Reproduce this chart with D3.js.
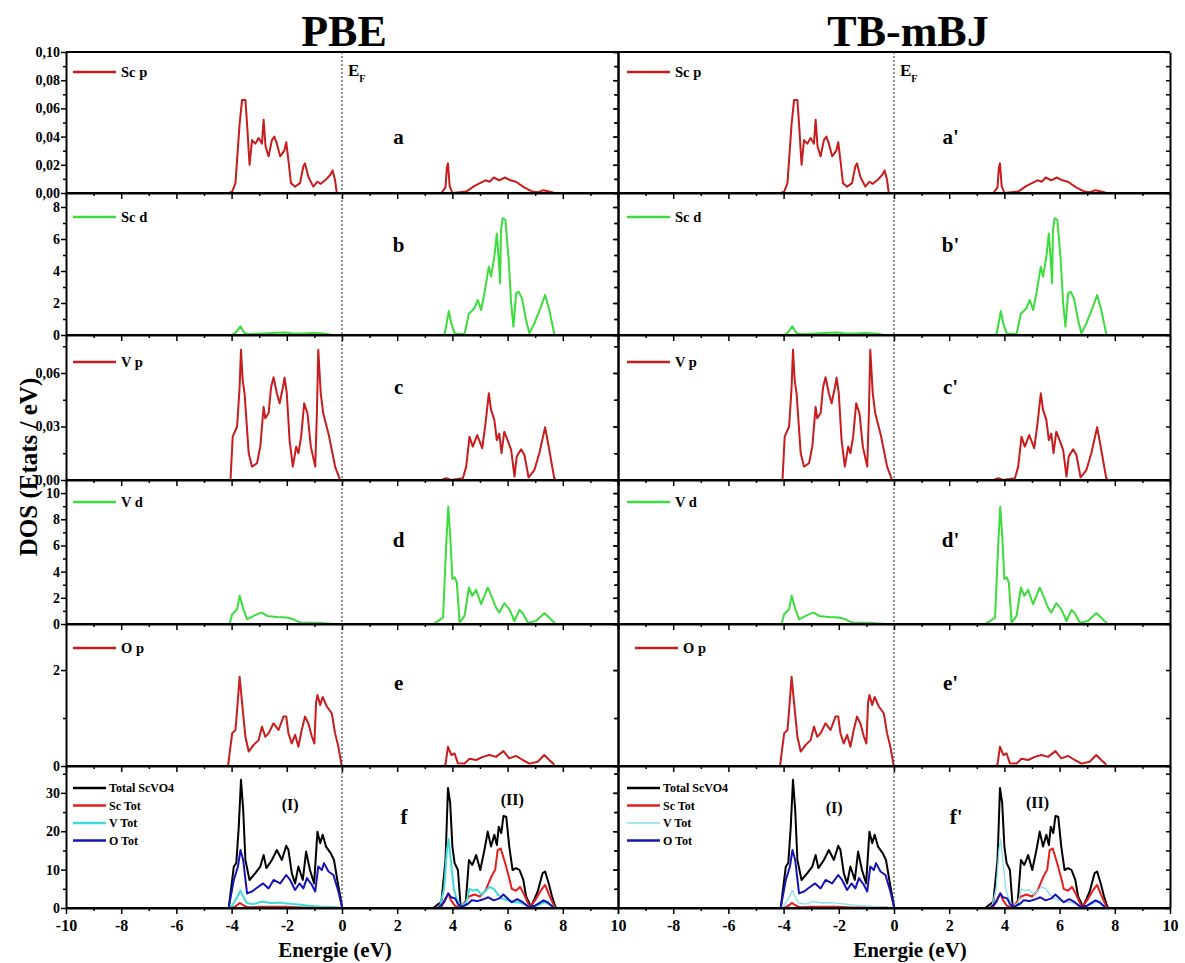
<!DOCTYPE html>
<html>
<head>
<meta charset="utf-8">
<script src="https://cdn.jsdelivr.net/npm/d3@7"></script>
<style>
  html, body { margin: 0; padding: 0; background: #fff; }
  svg { display: block; font-family: "Liberation Serif", "Times New Roman", serif; font-weight: bold; }
</style>
</head>
<body>
<svg id="chart" width="1185" height="963"></svg>
<script>
// Energy tick labels (eV)
const ENERGY_TICKS = [-10, -8, -6, -4, -2, 0, 2, 4, 6, 8, 10];
const ENERGY_MINOR = [-9, -7, -5, -3, -1, 1, 3, 5, 7, 9];

// [E (eV), DOS] pairs
const SC_P = [
  [-4.1,0],[-3.98,0.001],[-3.86,0.007],[-3.71,0.049],[-3.62,0.066],[-3.5,0.066],[-3.44,0.049],
  [-3.35,0.02],[-3.26,0.0375],[-3.14,0.035],[-3.02,0.039],[-2.9,0.035],[-2.84,0.052],[-2.77,0.033],
  [-2.66,0.026],[-2.54,0.0375],[-2.45,0.04],[-2.36,0.035],[-2.24,0.026],[-2.09,0.03],[-2.02,0.036],
  [-1.94,0.023],[-1.85,0.007],[-1.7,0.0045],[-1.52,0.007],[-1.4,0.019],[-1.34,0.021],[-1.22,0.0115],
  [-1.04,0.0045],[-0.89,0.008],[-0.77,0.0065],[-0.61,0.009],[-0.43,0.0128],[-0.34,0.016],[-0.25,0.009],
  [-0.19,0],[3.6,0],[3.75,0.004],[3.8,0.018],[3.84,0.021],[3.9,0.005],[4.0,0],[4.5,0.001],[4.8,0.005],
  [5.2,0.009],[5.35,0.008],[5.5,0.011],[5.7,0.009],[5.9,0.011],[6.1,0.009],[6.3,0.008],[6.6,0.004],
  [6.9,0.001],[7.1,0.0005],[7.3,0.002],[7.5,0.001],[7.7,0]
];
const SC_D = [
  [-4.0,0],[-3.85,0.15],[-3.68,0.55],[-3.55,0.15],[-3.4,0.05],[-3.0,0.08],[-2.5,0.12],[-2.06,0.16],
  [-1.8,0.1],[-1.4,0.1],[-1.0,0.12],[-0.6,0.08],[-0.36,0],
  [3.6,0],[3.72,0.06],[3.87,1.5],[3.96,0.73],[4.08,0.1],[4.44,0.05],[4.6,1.35],[4.68,1.46],[4.8,1.68],
  [4.92,2.19],[5.04,1.56],[5.16,2.6],[5.32,4.27],[5.4,3.65],[5.52,4.9],[5.61,6.35],[5.67,4.9],[5.73,3.23],
  [5.76,6.56],[5.82,7.29],[5.92,7.19],[6.04,4.69],[6.13,1.98],[6.21,0.52],[6.31,2.6],[6.4,2.71],[6.52,2.29],
  [6.67,0.94],[6.79,0.1],[6.97,0.73],[7.21,1.77],[7.36,2.5],[7.51,1.56],[7.61,0.73],[7.69,0.06],[7.75,0]
];
const V_P = [
  [-4.04,0],[-3.96,0.0243],[-3.8,0.03],[-3.71,0.052],[-3.66,0.073],[-3.6,0.056],[-3.53,0.0486],
  [-3.38,0.015],[-3.26,0.0075],[-3.08,0.0094],[-2.96,0.0187],[-2.84,0.041],[-2.78,0.0346],[-2.66,0.0374],
  [-2.57,0.052],[-2.48,0.0576],[-2.36,0.0486],[-2.26,0.043],[-2.14,0.052],[-2.08,0.0574],[-2.0,0.0486],
  [-1.9,0.0224],[-1.78,0.0075],[-1.66,0.0187],[-1.58,0.015],[-1.48,0.0243],[-1.37,0.043],[-1.25,0.0374],
  [-1.13,0.0187],[-0.97,0.0075],[-0.91,0.0374],[-0.86,0.073],[-0.77,0.0486],[-0.68,0.0374],[-0.49,0.026],
  [-0.37,0.0168],[-0.25,0.0075],[-0.07,0],
  [3.6,0],[3.78,0.001],[3.95,0],[4.38,0.001],[4.5,0.0075],[4.62,0.0243],[4.74,0.0187],[4.9,0.0252],
  [5.08,0.0178],[5.2,0.0318],[5.32,0.0486],[5.4,0.0393],[5.52,0.0337],[5.61,0.0224],[5.7,0.026],
  [5.78,0.015],[5.88,0.0271],[6.0,0.0224],[6.13,0.0168],[6.25,0.0019],[6.33,0.0131],[6.49,0.0172],
  [6.61,0.014],[6.76,0.0015],[6.97,0.0056],[7.15,0.015],[7.36,0.0296],[7.51,0.0168],[7.69,0.001],[7.75,0]
];
const V_D = [
  [-4.07,0],[-3.98,0.74],[-3.8,1.13],[-3.71,2.15],[-3.59,1.25],[-3.44,0.36],[-3.2,0.62],[-3.02,0.79],
  [-2.9,0.87],[-2.72,0.62],[-2.36,0.54],[-2.0,0.49],[-1.76,0.36],[-1.52,0.1],[-0.91,0.1],[-0.31,0],
  [3.3,0],[3.39,0.1],[3.66,0.49],[3.78,6.25],[3.85,8.95],[3.92,6.77],[4.0,3.44],[4.08,3.56],[4.16,3.18],
  [4.26,0.1],[4.44,0.62],[4.6,2.79],[4.72,2.15],[4.86,2.62],[5.04,1.51],[5.28,2.79],[5.46,1.9],[5.58,1.25],
  [5.7,0.87],[5.88,1.59],[6.06,1.13],[6.25,0.23],[6.43,1.08],[6.55,0.82],[6.73,0.1],[7.03,0.23],
  [7.33,0.82],[7.51,0.49],[7.69,0.1],[7.75,0]
];
const O_P = [
  [-4.13,0],[-3.98,0.68],[-3.86,0.75],[-3.78,1.31],[-3.71,1.86],[-3.62,1.31],[-3.5,0.61],[-3.38,0.3],
  [-3.2,0.44],[-3.02,0.54],[-2.9,0.82],[-2.78,0.61],[-2.66,0.68],[-2.48,0.89],[-2.3,0.75],[-2.12,1.03],
  [-2.02,1.03],[-1.94,0.68],[-1.82,0.47],[-1.7,0.65],[-1.58,0.4],[-1.46,0.75],[-1.34,1.03],[-1.22,0.89],
  [-1.09,0.61],[-1.0,0.47],[-0.94,1.31],[-0.89,1.48],[-0.79,1.27],[-0.7,1.44],[-0.55,1.24],[-0.37,1.1],
  [-0.25,0.68],[-0.13,0.4],[-0.01,0],
  [3.7,0],[3.75,0.035],[3.84,0.4],[3.96,0.23],[4.08,0.26],[4.2,0.056],[4.44,0.05],[4.62,0.15],[4.86,0.125],
  [5.1,0.19],[5.34,0.23],[5.58,0.19],[5.85,0.31],[6.06,0.16],[6.31,0.21],[6.55,0.125],[6.79,0.05],
  [7.09,0.09],[7.33,0.23],[7.51,0.125],[7.65,0.05],[7.7,0]
];
const TOTAL = [
  [-4.1,0.3],[-3.92,10.8],[-3.83,11.7],[-3.74,21.2],[-3.66,33.4],[-3.58,25.6],[-3.5,12.5],[-3.35,7.3],
  [-3.14,9.1],[-2.96,10.8],[-2.84,13.8],[-2.74,10.4],[-2.54,12.5],[-2.36,15.1],[-2.18,12.5],[-2.02,16.2],
  [-1.94,15.1],[-1.82,9.1],[-1.7,6.4],[-1.58,10.8],[-1.42,7.3],[-1.3,14.7],[-1.16,9.9],[-1.01,6.4],
  [-0.89,19.9],[-0.79,16.9],[-0.7,19.1],[-0.58,16.0],[-0.41,14.3],[-0.29,12.5],[-0.13,5.6],[0.01,0],
  [3.3,0],[3.36,0.3],[3.6,1.6],[3.75,12.5],[3.84,31.3],[3.92,27.3],[4.0,16.0],[4.08,11.7],[4.2,9.9],
  [4.3,0.3],[4.48,1.2],[4.6,12.5],[4.72,11.2],[4.86,13.8],[5.01,9.9],[5.16,15.1],[5.28,19.9],[5.4,16.0],
  [5.52,19.1],[5.61,16.4],[5.68,21.2],[5.77,19.5],[5.85,24.0],[5.95,23.8],[6.06,16.0],[6.18,9.9],
  [6.31,10.4],[6.43,9.9],[6.57,7.3],[6.67,3.0],[6.85,0.3],[7.09,4.3],[7.27,9.1],[7.36,9.5],[7.49,6.4],
  [7.61,3.0],[7.73,0.3],[7.8,0]
];
const SC_TOT = [
  [-4.0,0],[-3.85,0.5],[-3.7,1.3],[-3.55,0.6],[-3.4,0.2],[-3.0,0.3],[-2.5,0.35],[-2.0,0.3],[-1.5,0.15],
  [-1.0,0.15],[-0.5,0.2],[-0.2,0.05],[0,0],
  [3.55,0],[3.6,0.3],[3.75,2.5],[3.85,3.8],[3.95,2.0],[4.1,0.5],[4.3,0.1],[4.6,3.0],[4.8,3.5],[5.0,3.0],
  [5.2,4.5],[5.4,8.0],[5.55,10.0],[5.64,15.1],[5.75,15.5],[5.9,12.0],[6.05,8.0],[6.15,5.0],[6.3,4.5],
  [6.45,5.5],[6.6,3.5],[6.8,0.3],[7.0,2.0],[7.2,4.5],[7.36,6.0],[7.5,3.5],[7.7,0.3],[7.75,0]
];
const V_TOT = [
  [-4.05,0.1],[-3.9,1.5],[-3.75,3.5],[-3.68,4.6],[-3.6,3.3],[-3.45,1.3],[-3.2,1.0],[-2.9,1.7],[-2.6,1.3],
  [-2.3,1.4],[-2.0,1.2],[-1.6,0.9],[-1.2,0.6],[-0.8,0.4],[-0.4,0.3],[-0.1,0.1],[0,0],
  [3.45,0],[3.55,0.5],[3.7,5.0],[3.8,15.0],[3.86,18.0],[3.95,12.0],[4.05,5.0],[4.15,2.5],[4.3,0.3],
  [4.5,1.5],[4.62,5.0],[4.75,4.5],[4.9,4.8],[5.05,3.5],[5.2,4.5],[5.35,5.5],[5.5,5.0],[5.65,3.5],
  [5.8,2.5],[6.0,2.0],[6.2,1.5],[6.4,1.5],[6.6,1.0],[6.8,0.3],[7.1,0.8],[7.35,1.5],[7.55,0.8],[7.7,0.1],[7.75,0]
];
const O_TOT = [
  [-4.1,0.3],[-3.92,7.3],[-3.77,10.8],[-3.68,15.1],[-3.58,12.5],[-3.44,3.8],[-3.26,4.3],[-3.02,5.6],
  [-2.86,6.4],[-2.66,5.1],[-2.48,7.3],[-2.24,6.4],[-2.02,8.6],[-1.88,7.3],[-1.7,4.7],[-1.54,6.4],
  [-1.4,5.1],[-1.27,7.8],[-1.09,6.0],[-0.97,4.3],[-0.86,10.8],[-0.73,9.9],[-0.65,11.7],[-0.49,9.5],
  [-0.31,8.6],[-0.13,4.3],[0.01,0],
  [3.4,0],[3.5,0.1],[3.7,1.5],[3.85,3.8],[3.95,2.8],[4.1,2.5],[4.2,1.0],[4.35,0.3],[4.55,1.0],[4.7,2.0],
  [4.9,1.8],[5.1,2.2],[5.3,2.8],[5.5,2.0],[5.7,2.5],[5.85,3.5],[6.0,2.5],[6.15,1.5],[6.35,2.3],[6.55,1.5],
  [6.75,0.3],[7.0,0.6],[7.3,2.0],[7.45,1.5],[7.65,0.2],[7.7,0]
];

const RED = '#c91c1c', GREEN = '#3cdc3c', BLACK = '#000', BRIGHT_RED = '#e41e1e',
      CYAN = '#3fd9d9', LIGHT_CYAN = '#86e0ee', BLUE = '#1414b8';

const dec = n => d => d3.format(`.${n}f`)(d).replace('.', ',');

const PANELS = [
  { yMax: 0.1, ticks: [0, 0.02, 0.04, 0.06, 0.08, 0.1], minor: [0.01, 0.03, 0.05, 0.07, 0.09], fmt: dec(2),
    series: [{ name: 'Sc p', data: SC_P, color: RED }] },
  { yMax: 8.875, ticks: [0, 2, 4, 6, 8], minor: [1, 3, 5, 7], fmt: d3.format('d'),
    series: [{ name: 'Sc d', data: SC_D, color: GREEN }] },
  { yMax: 0.0813, ticks: [0, 0.03, 0.06], minor: [0.015, 0.045, 0.075], fmt: dec(2),
    series: [{ name: 'V p', data: V_P, color: RED }] },
  { yMax: 11, ticks: [0, 2, 4, 6, 8, 10], minor: [1, 3, 5, 7, 9], fmt: d3.format('d'),
    series: [{ name: 'V d', data: V_D, color: GREEN }] },
  { yMax: 2.96, ticks: [0, 2], minor: [1], fmt: d3.format('d'),
    series: [{ name: 'O p', data: O_P, color: RED }] },
  { yMax: 37, ticks: [0, 10, 20, 30], minor: [5, 15, 25, 35], fmt: d3.format('d'),
    series: [
      { name: 'Total ScVO4', data: TOTAL, color: BLACK },
      { name: 'Sc Tot', data: SC_TOT, color: BRIGHT_RED },
      { name: 'V Tot', data: V_TOT, color: CYAN },
      { name: 'O Tot', data: O_TOT, color: BLUE },
    ] },
];
const LETTERS = ['a', 'b', 'c', 'd', 'e', 'f'];

// layout
const ROW_EDGES = [52, 193, 335, 480, 624, 766, 908];
const LEGEND_DY = [20, 24, 27, 22, 24, 22];
const LETTER_DY = [92, 59, 59, 67, 66, 58];
const COLUMNS = [
  { title: 'PBE', titleX: 344, x0: 66, x1: 618, suffix: '', labels: true, letterE: 2.05,
    regions: [['(I)', -1.88, 810], ['(II)', 6.17, 805]], legendX: 73, axisTitleX: 335 },
  { title: 'TB-mBJ', titleX: 908, x0: 618, x1: 1170, suffix: "'", labels: false, letterE: 2.05,
    regions: [['(I)', -2.17, 813], ['(II)', 5.2, 808]], legendX: 627, axisTitleX: 910 },
];

const svg = d3.select('#chart');

// y axis title (drawn first so tick labels sit on top)
svg.append('text')
  .attr('transform', 'translate(37,467) rotate(-90)')
  .attr('text-anchor', 'middle')
  .attr('font-size', 25)
  .text('DOS (Etats / eV)');

COLUMNS.forEach((col, ci) => {
  const x = d3.scaleLinear().domain([-10, 10]).range([col.x0, col.x1]);
  const g = svg.append('g');

  g.append('text')
    .attr('x', col.titleX).attr('y', 46)
    .attr('text-anchor', 'middle').attr('font-size', 44)
    .text(col.title);

  PANELS.forEach((p, pi) => {
    const top = ROW_EDGES[pi], bot = ROW_EDGES[pi + 1];
    const y = d3.scaleLinear().domain([0, p.yMax]).range([bot, top]);
    const pg = g.append('g');
    const line = d3.line().x(d => x(d[0])).y(d => y(d[1]));

    pg.append('clipPath').attr('id', `clip-${ci}-${pi}`)
      .append('rect').attr('x', col.x0).attr('y', top).attr('width', col.x1 - col.x0).attr('height', bot - top);

    const curves = pg.append('g').attr('clip-path', `url(#clip-${ci}-${pi})`);
    p.series.forEach(s => {
      const thin = ci === 1 && s.name === 'V Tot';
      curves.append('path')
        .attr('d', line(s.data))
        .attr('fill', 'none')
        .attr('stroke', thin ? LIGHT_CYAN : s.color)
        .attr('stroke-width', thin ? 1.3 : 2)
        .attr('stroke-linejoin', 'round');
    });

    // frame
    pg.append('line').attr('x1', col.x0).attr('x2', col.x1).attr('y1', bot).attr('y2', bot)
      .attr('stroke', '#000').attr('stroke-width', 2);
    if (pi === 0) {
      pg.append('line').attr('x1', col.x0).attr('x2', col.x1).attr('y1', top).attr('y2', top)
        .attr('stroke', '#000').attr('stroke-width', 2);
    }

    // left axis
    const left = pg.append('g').attr('transform', `translate(${col.x0},0)`);
    left.call(d3.axisLeft(y).tickValues(p.ticks).tickSize(5).tickSizeOuter(0)
      .tickFormat(col.labels ? p.fmt : () => ''));
    left.append('g').call(d3.axisLeft(y).tickValues(p.minor).tickSize(3).tickFormat(() => ''))
      .select('.domain').remove();
    // right side ticks (inward)
    const right = pg.append('g').attr('transform', `translate(${col.x1},0)`);
    right.call(d3.axisLeft(y).tickValues(p.ticks.concat(p.minor)).tickSize(4).tickSizeOuter(0).tickFormat(() => ''));

    // bottom energy ticks
    const bottom = pg.append('g').attr('transform', `translate(0,${bot})`);
    bottom.call(d3.axisBottom(x).tickValues(ENERGY_TICKS).tickSize(6).tickSizeOuter(0)
      .tickFormat(pi === 5 ? (d => (ci === 1 && d === -10) ? '' : d) : () => ''));
    bottom.append('g').call(d3.axisBottom(x).tickValues(ENERGY_MINOR).tickSize(3).tickFormat(() => ''))
      .select('.domain').remove();

    [left, right, bottom].forEach(a => {
      a.selectAll('.domain').attr('stroke', '#000').attr('stroke-width', 2);
      a.selectAll('line').attr('stroke', '#000').attr('stroke-width', 1.5);
      a.selectAll('text').attr('fill', '#000').attr('font-family', '"Liberation Serif", serif')
        .attr('font-weight', 'bold');
    });
    left.selectAll('text').attr('font-size', 14).attr('dx', 2);
    bottom.selectAll('text').attr('font-size', 16).attr('dy', '0.9em');

    // legend
    const multi = p.series.length > 1;
    p.series.forEach((s, si) => {
      const ly = top + LEGEND_DY[pi] + si * 17.5;
      const lx = col.legendX + (pi === 4 && ci === 1 ? 8 : 0);
      const thin = ci === 1 && s.name === 'V Tot';
      pg.append('line').attr('x1', lx).attr('x2', lx + (multi ? 33 : 43)).attr('y1', ly).attr('y2', ly)
        .attr('stroke', thin ? LIGHT_CYAN : s.color).attr('stroke-width', thin ? 1.5 : 2.5);
      pg.append('text').attr('x', lx + (multi ? 36 : 48)).attr('y', ly + (multi ? 4 : 5))
        .attr('font-size', multi ? 12 : 14.5).text(s.name);
    });

    // panel letter
    pg.append('text')
      .attr('x', x(col.letterE + (pi === 5 ? 0.2 : 0))).attr('y', top + LETTER_DY[pi])
      .attr('text-anchor', 'middle').attr('font-size', 21)
      .text(LETTERS[pi] + col.suffix);
  });

  // region labels in f
  col.regions.forEach(([t, e, yy]) => {
    g.append('text').attr('x', x(e)).attr('y', yy).attr('text-anchor', 'middle')
      .attr('font-size', 16).text(t);
  });

  // Fermi level
  g.append('line').attr('x1', x(0)).attr('x2', x(0)).attr('y1', ROW_EDGES[0]).attr('y2', ROW_EDGES[6])
    .attr('stroke', '#222').attr('stroke-width', 1).attr('stroke-dasharray', '2,2');
  const ef = g.append('text').attr('x', x(0) + 6).attr('y', 76).attr('font-size', 17);
  ef.append('tspan').text('E');
  ef.append('tspan').attr('font-size', 10).attr('dy', 6).text('F');

  g.append('text').attr('x', col.axisTitleX).attr('y', 957).attr('text-anchor', 'middle')
    .attr('font-size', 21).text('Energie (eV)');
});
</script>
</body>
</html>
